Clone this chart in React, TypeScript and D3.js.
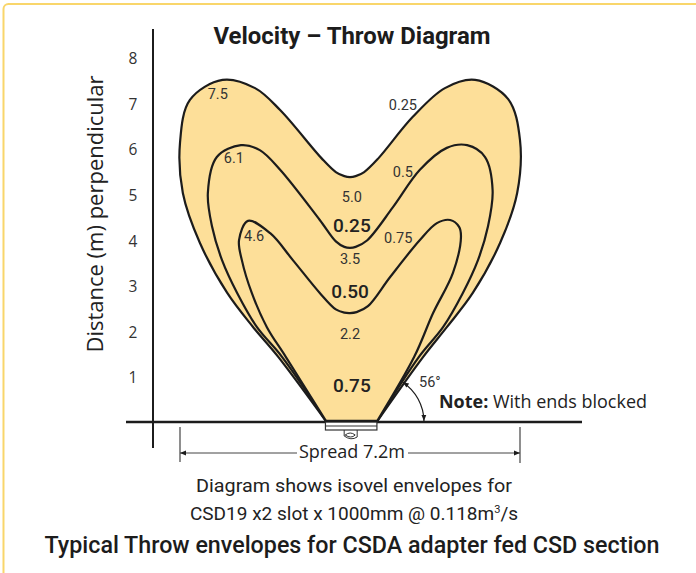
import React from "react"
import * as d3 from "d3"

const W = 696
const H = 573

// isovel envelopes, [spread m, distance m], clockwise from the diffuser left edge
const env025: [number, number][] = [
  [-0.48, 0.0], [-1.52, 1.45], [-2.05, 2.1], [-2.6, 2.85], [-3.18, 3.95],
  [-3.54, 5.04], [-3.6, 6.14], [-3.39, 7.08], [-2.7, 7.52], [-2.01, 7.34],
  [-1.48, 6.86], [-0.6, 5.8], [-0.3, 5.5], [-0.12, 5.41], [0, 5.39],
  [0.12, 5.41], [0.3, 5.5], [0.6, 5.8], [1.33, 6.71], [2.01, 7.34],
  [2.65, 7.52], [3.35, 7.1], [3.6, 6.2], [3.54, 5.04], [3.18, 3.95],
  [2.6, 2.85], [2.05, 2.1], [1.55, 1.45], [0.55, 0.0],
]
const env050: [number, number][] = [
  [-0.48, 0.0], [-1.44, 1.45], [-1.97, 2.1], [-2.39, 2.85], [-2.71, 3.57],
  [-2.92, 4.3], [-3.01, 5.04], [-2.82, 5.83], [-2.31, 6.09], [-1.91, 5.98],
  [-1.48, 5.55], [-0.64, 4.45], [-0.3, 3.98], [-0.12, 3.86], [0, 3.84],
  [0.12, 3.86], [0.36, 4.0], [0.91, 4.73], [1.48, 5.55], [2.05, 6.03],
  [2.48, 6.09], [2.86, 5.83], [3.02, 5.1], [2.92, 4.3], [2.71, 3.57],
  [2.39, 2.85], [1.97, 2.1], [1.46, 1.45], [0.55, 0.0],
]
const env075: [number, number][] = [
  [-0.48, 0.0], [-1.36, 1.45], [-1.76, 2.1], [-2.08, 2.85], [-2.29, 3.57],
  [-2.35, 4.01], [-2.16, 4.43], [-1.69, 4.16], [-1.21, 3.57], [-0.64, 2.85],
  [-0.3, 2.49], [-0.12, 2.42], [0, 2.41], [0.14, 2.43], [0.38, 2.56],
  [0.85, 3.2], [1.48, 4.01], [1.84, 4.38], [2.12, 4.45], [2.31, 4.3],
  [2.35, 4.08], [2.18, 3.29], [1.76, 2.41], [1.36, 1.45], [0.55, 0.0],
]
const envelopes = [env025, env050, env075]

const yTicks = [1, 2, 3, 4, 5, 6, 7, 8]

// throw distances (m)
const throwLabels: [string, number, number][] = [
  ["7.5", -2.8, 7.21], ["6.1", -2.46, 5.79], ["4.6", -2.03, 4.08],
  ["5.0", 0.04, 4.95], ["3.5", 0, 3.59], ["2.2", 0, 1.95],
]
// envelope velocities (m/s)
const edgeVelocities: [string, number, number][] = [
  ["0.25", 1.12, 6.95], ["0.5", 1.12, 5.48], ["0.75", 1.02, 4.05],
]
const centreVelocities: [string, number, number][] = [
  ["0.25", 0.04, 4.32], ["0.50", 0, 2.89], ["0.75", 0.04, 0.83],
]

const spread = 7.2
const throwAngle = 56
const diffuserSpan = [-0.52, 0.57]

const fill = "#fddf99"
const ink = "#1c1c1c"
const sans = "'Open Sans', 'Noto Sans', sans-serif"
const din = "Roboto, 'Noto Sans', sans-serif"

export default function App() {
  const x = d3.scaleLinear().domain([-spread / 2, spread / 2]).range([180, 520])
  const y = d3.scaleLinear().domain([0, 8]).range([423, 58])

  const line = d3
    .line<[number, number]>()
    .x((d) => x(d[0]))
    .y((d) => y(d[1]))
    .curve(d3.curveCatmullRom.alpha(0.5))

  const axisY = 422
  const axisX = 153

  // 56 degree angle marker, centred on the right diffuser edge
  const cx = x(0.55)
  const r = 48
  const a = (throwAngle * Math.PI) / 180
  const arcPath = `M${cx + r},${axisY - 1} A${r},${r} 0 0 0 ${cx + r * Math.cos(a)},${axisY - r * Math.sin(a)}`

  const dimY = 453
  const dx0 = x(-spread / 2)
  const dx1 = x(spread / 2)

  const dl = x(diffuserSpan[0])
  const dr = x(diffuserSpan[1])
  const dm = (dl + dr) / 2

  return (
    <svg
      width={W}
      height={H}
      style={{ position: "absolute", left: 0, top: 0, background: "#fff" }}
    >
      <defs>
        <marker
          id="ah"
          viewBox="0 0 10 10"
          refX="10"
          refY="5"
          markerWidth="8"
          markerHeight="6"
          markerUnits="userSpaceOnUse"
          orient="auto-start-reverse"
        >
          <path d="M0,1 L10,5 L0,9 Z" fill={ink} />
        </marker>
      </defs>

      <rect x={3.5} y={4} width={760} height={640} rx={5} fill="none" stroke="#f9d66b" strokeWidth={2} />

      {envelopes.map((env, i) => (
        <path key={i} d={line(env) + "Z"} fill={fill} stroke={ink} strokeWidth={2.2} strokeLinejoin="round" />
      ))}

      {throwLabels.map(([t, vx, vy], i) => (
        <text key={"t" + i} x={x(vx)} y={y(vy)} textAnchor="middle" dominantBaseline="central" fontFamily={din} fontSize={14.5} fill="#333">
          {t}
        </text>
      ))}
      {edgeVelocities.map(([t, vx, vy], i) => (
        <text key={"e" + i} x={x(vx)} y={y(vy)} textAnchor="middle" dominantBaseline="central" fontFamily={din} fontSize={14.5} fill="#333">
          {t}
        </text>
      ))}
      {centreVelocities.map(([t, vx, vy], i) => (
        <text key={"c" + i} x={x(vx)} y={y(vy)} textAnchor="middle" dominantBaseline="central" fontFamily={din} fontSize={19} fontWeight={500} fill="#222">
          {t}
        </text>
      ))}

      {/* axes */}
      <line x1={axisX} x2={axisX} y1={29} y2={448} stroke={ink} strokeWidth={2} />
      <line x1={126} x2={582} y1={axisY} y2={axisY} stroke={ink} strokeWidth={2.5} />
      {yTicks.map((t) => (
        <text key={t} x={133} y={y(t)} textAnchor="middle" dominantBaseline="central" fontFamily={sans} fontSize={15.5} fill="#333">
          {t}
        </text>
      ))}
      <text
        transform={`translate(94,214) rotate(-90)`}
        textAnchor="middle"
        dominantBaseline="central"
        fontFamily={sans}
        fontSize={22}
        fill="#222"
      >
        Distance (m) perpendicular
      </text>

      {/* diffuser */}
      <rect x={dl} y={axisY} width={dr - dl} height={8} fill="#fff" stroke="#333" strokeWidth={1.2} />
      <line x1={dl} x2={dr} y1={axisY - 1} y2={axisY - 1} stroke={ink} strokeWidth={2.5} />
      <line x1={dl} x2={dr} y1={axisY + 4} y2={axisY + 4} stroke="#333" strokeWidth={1} />
      <path
        d={`M${dm - 7},${axisY + 8} L${dm - 7},${axisY + 14} Q${dm},${axisY + 19} ${dm + 6},${axisY + 15} L${dm + 6},${axisY + 8} M${dm - 6},${axisY + 13} Q${dm - 1},${axisY + 9} ${dm + 4},${axisY + 13} Q${dm},${axisY + 17} ${dm - 6},${axisY + 13}`}
        fill="none"
        stroke="#333"
        strokeWidth={1}
      />

      {/* angle */}
      <path d={arcPath} fill="none" stroke={ink} strokeWidth={1.2} markerStart="url(#ah)" markerEnd="url(#ah)" />
      <text x={419} y={387} fontFamily={din} fontSize={14.5} fill="#333">
        56°
      </text>
      <text x={439} y={408} fontFamily={sans} fontSize={17.5} fill="#222" textLength={208} lengthAdjust="spacingAndGlyphs">
        <tspan fontWeight={700}>Note:</tspan> With ends blocked
      </text>

      {/* spread dimension */}
      <line x1={dx0} x2={dx0} y1={427} y2={462} stroke="#444" strokeWidth={1.2} />
      <line x1={dx1} x2={dx1} y1={427} y2={463} stroke="#444" strokeWidth={1.2} />
      <line x1={297} x2={dx0} y1={dimY} y2={dimY} stroke="#444" strokeWidth={1} markerEnd="url(#ah)" />
      <line x1={408} x2={dx1} y1={dimY} y2={dimY} stroke="#444" strokeWidth={1} markerEnd="url(#ah)" />
      <text x={352} y={458} textAnchor="middle" fontFamily={sans} fontSize={18} fill="#222">
        Spread 7.2m
      </text>

      {/* titles */}
      <text x={352} y={44} textAnchor="middle" fontFamily={din} fontSize={24} fontWeight={700} fill={ink} textLength={277} lengthAdjust="spacingAndGlyphs">
        Velocity – Throw Diagram
      </text>
      <text x={354} y={492} textAnchor="middle" fontFamily={din} fontSize={18} fill="#222" textLength={316} lengthAdjust="spacingAndGlyphs">
        Diagram shows isovel envelopes for
      </text>
      <text x={354} y={520} textAnchor="middle" fontFamily={din} fontSize={19} fill="#222">
        CSD19 x2 slot x 1000mm @ 0.118m<tspan dy={-7} fontSize={11}>3</tspan>
        <tspan dy={7}>/s</tspan>
      </text>
      <text x={352} y={553} textAnchor="middle" fontFamily={din} fontSize={23} fontWeight={500} fill={ink} textLength={615} lengthAdjust="spacingAndGlyphs">
        Typical Throw envelopes for CSDA adapter fed CSD section
      </text>
    </svg>
  )
}
